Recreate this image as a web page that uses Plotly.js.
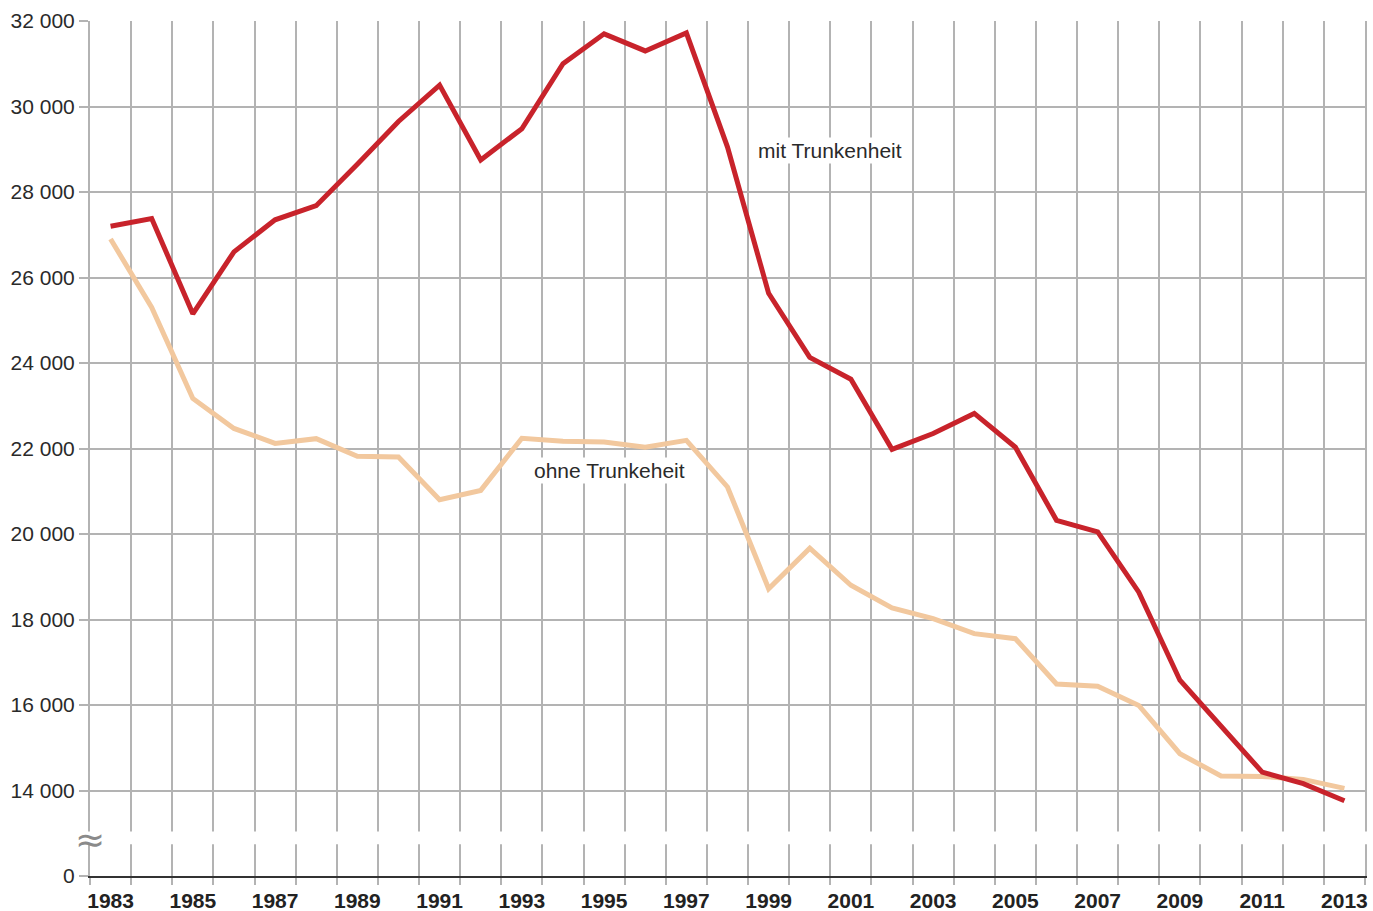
<!DOCTYPE html>
<html>
<head>
<meta charset="utf-8">
<script src="https://cdn.plot.ly/plotly-3.0.1.min.js"></script>
<style>html,body{margin:0;padding:0;background:#fff;}#chart{width:1373px;height:911px;}</style>
</head>
<body>
<div id="chart"></div>
<script>
// Data
const years = [1983,1984,1985,1986,1987,1988,1989,1990,1991,1992,1993,1994,1995,1996,1997,1998,1999,2000,2001,2002,2003,2004,2005,2006,2007,2008,2009,2010,2011,2012,2013];
const mitTrunkenheit = [27200,27380,25150,26600,27350,27680,28650,29650,30500,28750,29480,31000,31700,31300,31720,29050,25630,24130,23620,21980,22350,22820,22030,20320,20050,18640,16580,15490,14430,14160,13760];
const ohneTrunkenheit = [26900,25300,23170,22470,22120,22230,21820,21800,20800,21020,22240,22170,22150,22030,22190,21100,18720,19670,18800,18270,18020,17670,17550,16490,16440,15990,14860,14340,14330,14260,14050];
const yearLabelVals = [1983,1985,1987,1989,1991,1993,1995,1997,1999,2001,2003,2005,2007,2009,2011,2013];
const yearLabelText = yearLabelVals.map(String);
const yTickVals = [12000,14000,16000,18000,20000,22000,24000,26000,28000,30000,32000];
const yTickText = ["0","14 000","16 000","18 000","20 000","22 000","24 000","26 000","28 000","30 000","32 000"];
const seriesNames = ["mit Trunkenheit","ohne Trunkeheit"];

const boundaries = [];
for (let i = 0; i <= years.length; i++) boundaries.push(years[0] - 0.5 + i);

const FONT = "Liberation Sans, Arial, Helvetica, sans-serif";
const GRID = "#b3b3b3";

const traces = [
  {x: years, y: ohneTrunkenheit, type: "scatter", mode: "lines", name: seriesNames[1],
   line: {color: "#f2c89e", width: 5}, hoverinfo: "skip"},
  {x: years, y: mitTrunkenheit, type: "scatter", mode: "lines", name: seriesNames[0],
   line: {color: "#c8232b", width: 5}, hoverinfo: "skip"}
];

const layout = {
  width: 1373, height: 911,
  margin: {l: 90, r: 8, t: 21, b: 35},
  paper_bgcolor: "#ffffff", plot_bgcolor: "#ffffff",
  showlegend: false,
  font: {family: FONT, color: "#2a2a2a"},
  xaxis: {
    range: [years[0] - 0.5, years[years.length - 1] + 0.5],
    tickmode: "array", tickvals: yearLabelVals, ticktext: yearLabelText,
    ticks: "", showgrid: false, zeroline: false,
    tickfont: {family: FONT, size: 21, color: "#222", weight: "bold"},
    ticklabelstandoff: 5,
    showline: true, linecolor: "#333", linewidth: 2,
    minor: {tickmode: "array", tickvals: boundaries, ticks: "outside", ticklen: 7,
            tickcolor: GRID, tickwidth: 2, showgrid: true, gridcolor: GRID, gridwidth: 2},
    fixedrange: true
  },
  yaxis: {
    range: [12000, 32000],
    tickmode: "array", tickvals: yTickVals, ticktext: yTickText,
    ticks: "outside", ticklen: 9, tickcolor: GRID, tickwidth: 2,
    showgrid: true, gridcolor: GRID, gridwidth: 2, zeroline: false,
    showline: true, linecolor: GRID, linewidth: 2, mirror: true,
    tickfont: {family: FONT, size: 21, color: "#2a2a2a"},
    fixedrange: true
  },
  shapes: [
    {type: "rect", xref: "paper", yref: "y", x0: -0.02, x1: 1.01, y0: 12740, y1: 13040,
     fillcolor: "#ffffff", line: {width: 0}, layer: "above"}
  ],
  annotations: [
    {xref: "paper", yref: "y", x: 0, y: 12850, text: "≈", showarrow: false,
     font: {family: "DejaVu Sans", size: 36, color: "#8a8a8a"}, xanchor: "center", yanchor: "middle"},
    {xref: "x", yref: "y", x: 2000.5, y: 28976, text: seriesNames[0], showarrow: false,
     font: {family: FONT, size: 21, color: "#2a2a2a"}, bgcolor: "#ffffff", borderpad: 1},
    {xref: "x", yref: "y", x: 1995.12, y: 21490, text: seriesNames[1], showarrow: false,
     font: {family: FONT, size: 21, color: "#2a2a2a"}, bgcolor: "#ffffff", borderpad: 1}
  ]
};

Plotly.newPlot("chart", traces, layout, {displayModeBar: false, staticPlot: true});
</script>
</body>
</html>
